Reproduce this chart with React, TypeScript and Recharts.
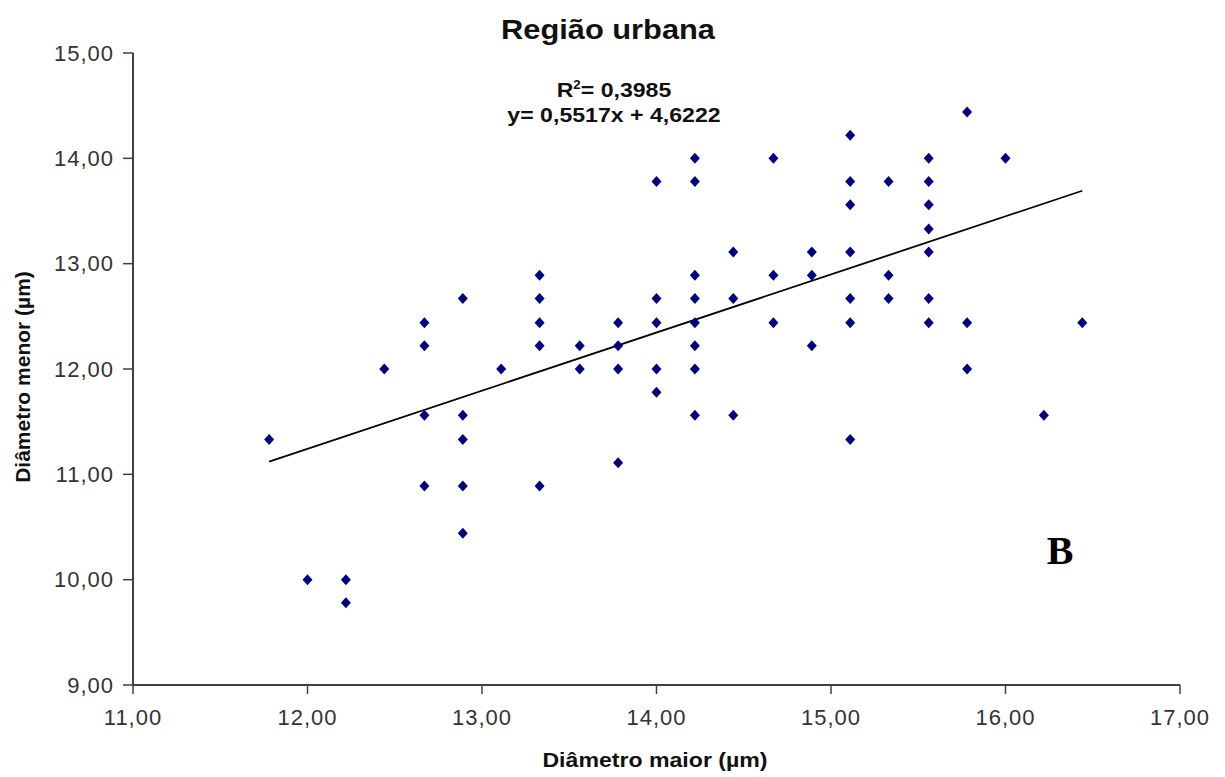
import React from 'react';
import { ScatterChart, Scatter, XAxis, YAxis, ReferenceLine } from 'recharts';

// Diâmetro maior (µm) for each observation
const diametroMaior = [
  11.78, 12.0, 12.22, 12.22, 12.44,
  12.67, 12.67, 12.67, 12.67,
  12.89, 12.89, 12.89, 12.89, 12.89,
  13.11,
  13.33, 13.33, 13.33, 13.33, 13.33,
  13.56, 13.56,
  13.78, 13.78, 13.78, 13.78,
  14.0, 14.0, 14.0, 14.0, 14.0,
  14.22, 14.22, 14.22, 14.22, 14.22, 14.22, 14.22, 14.22,
  14.44, 14.44, 14.44,
  14.67, 14.67, 14.67,
  14.89, 14.89, 14.89,
  15.11, 15.11, 15.11, 15.11, 15.11, 15.11, 15.11,
  15.33, 15.33, 15.33,
  15.56, 15.56, 15.56, 15.56, 15.56, 15.56, 15.56,
  15.78, 15.78, 15.78,
  16.0, 16.22, 16.44,
];

// Diâmetro menor (µm) for each observation
const diametroMenor = [
  11.33, 10.0, 10.0, 9.78, 12.0,
  12.44, 12.22, 11.56, 10.89,
  12.67, 11.56, 11.33, 10.89, 10.44,
  12.0,
  12.89, 12.67, 12.44, 12.22, 10.89,
  12.22, 12.0,
  12.44, 12.22, 12.0, 11.11,
  13.78, 12.67, 12.44, 12.0, 11.78,
  14.0, 13.78, 12.89, 12.67, 12.44, 12.22, 12.0, 11.56,
  13.11, 12.67, 11.56,
  14.0, 12.89, 12.44,
  13.11, 12.89, 12.22,
  14.22, 13.78, 13.56, 13.11, 12.67, 12.44, 11.33,
  13.78, 12.89, 12.67,
  14.0, 13.78, 13.56, 13.33, 13.11, 12.67, 12.44,
  14.44, 12.44, 12.0,
  14.0, 11.56, 12.44,
];

const xTicks = [11, 12, 13, 14, 15, 16, 17];
const yTicks = [9, 10, 11, 12, 13, 14, 15];

// Linear trend line reported on the chart
const slope = 0.5517;
const intercept = 4.6222;
const r2Text = '0,3985';
const eqText = 'y= 0,5517x + 4,6222';

const titleText = 'Região urbana';
const xTitle = 'Diâmetro maior (µm)';
const yTitle = 'Diâmetro menor (µm)';
const panelLetter = 'B';

const data = diametroMaior.map((x, i) => ({ x, y: diametroMenor[i] }));
const xMin = Math.min(...diametroMaior);
const xMax = Math.max(...diametroMaior);
const trendSegment = [
  { x: xMin, y: slope * xMin + intercept },
  { x: xMax, y: slope * xMax + intercept },
];

const fmt = (v: number) => v.toFixed(2).replace('.', ',');

const Diamond = (props: any) => {
  const { cx, cy } = props;
  if (cx == null || cy == null) return null;
  const w = 5;
  const h = 5.5;
  return (
    <polygon
      points={`${cx},${cy - h} ${cx + w},${cy} ${cx},${cy + h} ${cx - w},${cy}`}
      fill="#000080"
    />
  );
};

const sans = '"Liberation Sans", Arial, sans-serif';
const axisColor = '#404040';
const tickStyle = { fontSize: 22, fill: '#333', fontFamily: sans, letterSpacing: 1 };

export default function App() {
  return (
    <div style={{ position: 'absolute', left: 0, top: 0, width: 1225, height: 777, background: '#fff' }}>
      <ScatterChart
        width={1225}
        height={777}
        margin={{ top: 53, right: 45, bottom: 52, left: 53 }}
      >
        <XAxis
          type="number"
          dataKey="x"
          domain={[11, 17]}
          ticks={xTicks}
          tickFormatter={fmt}
          height={40}
          axisLine={{ stroke: axisColor, strokeWidth: 2 }}
          tickLine={{ stroke: axisColor, strokeWidth: 1.5 }}
          tickSize={9}
          tickMargin={15}
          tick={tickStyle}
          allowDataOverflow
        />
        <YAxis
          type="number"
          dataKey="y"
          domain={[9, 15]}
          ticks={yTicks}
          tickFormatter={fmt}
          width={80}
          axisLine={{ stroke: axisColor, strokeWidth: 2 }}
          tickLine={{ stroke: axisColor, strokeWidth: 1.5 }}
          tickSize={10}
          tickMargin={9}
          tick={tickStyle}
          allowDataOverflow
        />
        <ReferenceLine
          segment={trendSegment}
          stroke="#000"
          strokeWidth={1.8}
          ifOverflow="visible"
        />
        <Scatter data={data} shape={<Diamond />} isAnimationActive={false} />
      </ScatterChart>

      <div
        style={{
          position: 'absolute', left: 408, width: 400, top: 15, textAlign: 'center',
          fontFamily: sans, fontWeight: 'bold', fontSize: 28, lineHeight: '30px', color: '#111',
          transform: 'scaleX(1.1)',
        }}
      >
        {titleText}
      </div>
      <div
        style={{
          position: 'absolute', left: 414, width: 400, top: 77, textAlign: 'center',
          fontFamily: sans, fontWeight: 'bold', fontSize: 21, lineHeight: '25px', color: '#111',
          transform: 'scaleX(1.1)',
        }}
      >
        <div>R<sup style={{ fontSize: 12, verticalAlign: 'super', lineHeight: 0 }}>2</sup>= {r2Text}</div>
        <div>{eqText}</div>
      </div>
      <div
        style={{
          position: 'absolute', left: 455, width: 400, top: 748, textAlign: 'center',
          fontFamily: sans, fontWeight: 'bold', fontSize: 21, lineHeight: '24px', color: '#111',
          transform: 'scaleX(1.1)',
        }}
      >
        {xTitle}
      </div>
      <div
        style={{
          position: 'absolute', left: 23 - 150, width: 300, top: 377 - 12, textAlign: 'center',
          fontFamily: sans, fontWeight: 'bold', fontSize: 21, lineHeight: '24px', color: '#111',
          transform: 'rotate(-90deg)',
        }}
      >
        {yTitle}
      </div>
      <div
        style={{
          position: 'absolute', left: 1010, width: 100, top: 528, textAlign: 'center',
          fontFamily: '"Liberation Serif", "Times New Roman", serif', fontWeight: 'bold',
          fontSize: 40, lineHeight: '46px', color: '#000',
        }}
      >
        {panelLetter}
      </div>
    </div>
  );
}
